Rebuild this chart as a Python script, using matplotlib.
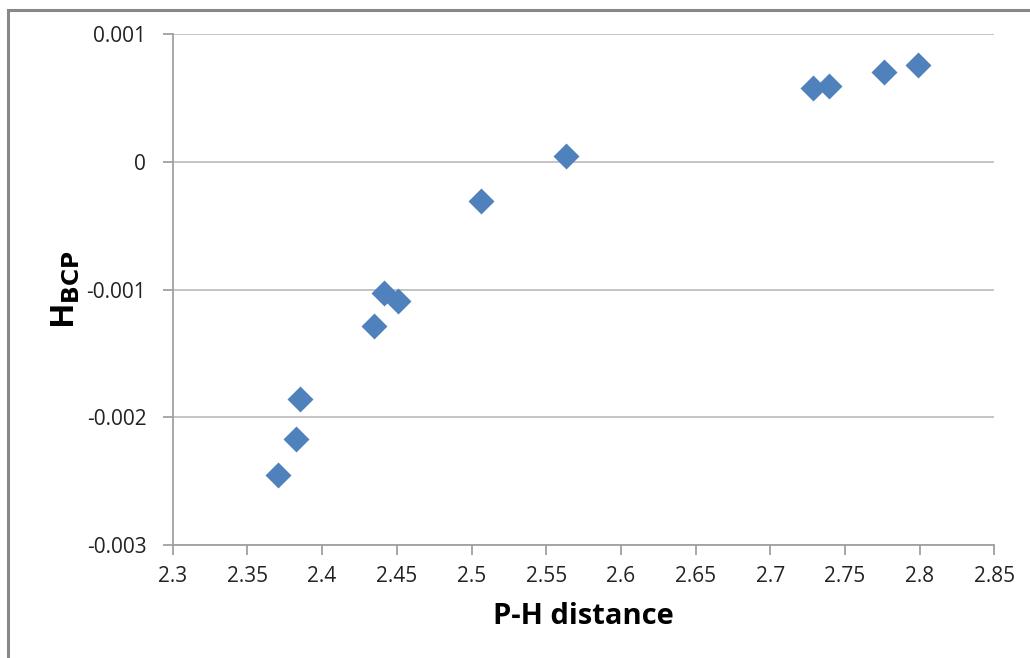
import matplotlib
matplotlib.use("Agg")
import matplotlib.pyplot as plt
from matplotlib.patches import Rectangle
from matplotlib.ticker import FixedLocator, FixedFormatter

ph_distance = [2.3703, 2.3823, 2.3852, 2.4347, 2.4414, 2.4506, 2.5064, 2.5633,
               2.7288, 2.7395, 2.7763, 2.7991]
h_bcp = [-0.002451, -0.002172, -0.001856, -0.001282, -0.001028, -0.001088,
         -0.000305, 0.000047, 0.000574, 0.000595, 0.000699, 0.000757]

x_ticks = [2.3, 2.35, 2.4, 2.45, 2.5, 2.55, 2.6, 2.65, 2.7, 2.75, 2.8, 2.85]
x_tick_labels = ["2.3", "2.35", "2.4", "2.45", "2.5", "2.55", "2.6", "2.65",
                 "2.7", "2.75", "2.8", "2.85"]
y_ticks = [-0.003, -0.002, -0.001, 0, 0.001]
y_tick_labels = ["-0.003", "-0.002", "-0.001", "0", "0.001"]

plt.rcParams['font.family'] = ['Open Sans', 'DejaVu Sans']

fig = plt.figure(figsize=(10.3, 6.58), dpi=100)
ax = fig.add_axes([172.7/1030, 1 - 545/658, (994.4-172.7)/1030, (545-34)/658])

ax.scatter(ph_distance, h_bcp, marker='D', s=175, color='#4F81BD', zorder=3,
           linewidths=0)

ax.set_xlim(2.3, 2.85)
ax.set_ylim(-0.003, 0.001)
ax.xaxis.set_major_locator(FixedLocator(x_ticks))
ax.xaxis.set_major_formatter(FixedFormatter(x_tick_labels))
ax.yaxis.set_major_locator(FixedLocator(y_ticks))
ax.yaxis.set_major_formatter(FixedFormatter(y_tick_labels))

ax.grid(axis='y', color='#BFBFBF', linewidth=1.3)
ax.set_axisbelow(True)
for s in ['top', 'right']:
    ax.spines[s].set_visible(False)
for s in ['left', 'bottom']:
    ax.spines[s].set_color('#A0A0A0')
    ax.spines[s].set_linewidth(1.3)
ax.tick_params(axis='both', direction='out', length=7, width=1.3, color='#A0A0A0',
               labelsize=15, labelcolor='#222222')
ax.tick_params(axis='y', pad=12)
ax.tick_params(axis='x', pad=8)

ax.set_xlabel("P-H distance", fontsize=21, fontweight='bold', labelpad=11)
ax.set_ylabel(r"H$_{\mathbf{BCP}}$", fontsize=24, fontweight='bold', labelpad=3)

fig.patches.append(Rectangle((8/1030, -0.1), 1.2, 1 - 10/658 + 0.1,
                             transform=fig.transFigure, fill=False,
                             edgecolor='#888888', linewidth=2.2))

fig.savefig("out.png", dpi=100)
